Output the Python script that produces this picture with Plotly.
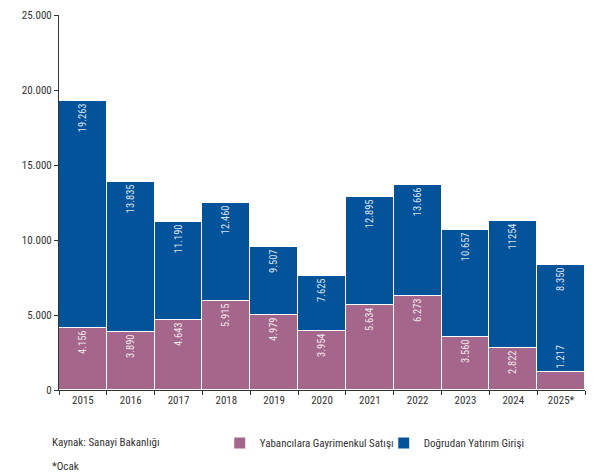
import plotly.graph_objects as go

years = ["2015", "2016", "2017", "2018", "2019", "2020", "2021", "2022", "2023", "2024", "2025*"]
direct_investment = [19263, 13835, 11190, 12460, 9507, 7625, 12895, 13666, 10657, 11254, 8350]
direct_labels = ["19.263", "13.835", "11.190", "12.460", "9.507", "7.625", "12.895", "13.666", "10.657", "11254", "8.350"]
real_estate = [4156, 3890, 4643, 5915, 4979, 3954, 5634, 6273, 3560, 2822, 1217]
real_estate_labels = ["4.156", "3.890", "4.643", "5.915", "4.979", "3.954", "5.634", "6.273", "3.560", "2.822", "1.217"]
y_ticks = [0, 5000, 10000, 15000, 20000, 25000]

BLUE = "#03539B"
PINK = "#A5668B"
FONT = "Liberation Sans Narrow, Roboto Condensed, Arial Narrow, Liberation Sans, sans-serif"
TXT = "#333333"

re_pos = ["inside" if v > 2000 else "outside" for v in real_estate]

fig = go.Figure()
fig.add_trace(go.Bar(
    x=years, y=direct_investment, name="Doğrudan Yatırım Girişi",
    marker=dict(color=BLUE, line=dict(color="white", width=1)),
    text=direct_labels, textposition="inside", insidetextanchor="end",
    textangle=-90, textfont=dict(color="rgba(255,255,255,0.85)", size=10.5, family=FONT),
    legendrank=2, cliponaxis=False,
))
fig.add_trace(go.Bar(
    x=years, y=real_estate, name="Yabancılara Gayrimenkul Satışı",
    marker=dict(color=PINK, line=dict(color="white", width=1)),
    text=real_estate_labels, textposition=re_pos, insidetextanchor="end",
    textangle=-90, textfont=dict(color="rgba(255,255,255,0.85)", size=10.5, family=FONT),
    legendrank=1, cliponaxis=False,
))

fig.update_layout(
    width=586, height=466,
    margin=dict(l=51, r=9, t=7, b=84, autoexpand=False),
    barmode="overlay", bargap=0.0,
    paper_bgcolor="white", plot_bgcolor="white",
    separators=",.",
    font=dict(family=FONT, size=11, color=TXT),
    legend=dict(x=0.3614, y=0.0665, xref="container", yref="container",
                xanchor="left", yanchor="middle",
                orientation="h", entrywidth=119, entrywidthmode="pixels",
                font=dict(size=11, family=FONT, color=TXT),
                bgcolor="rgba(0,0,0,0)"),
    annotations=[
        dict(text="Kaynak: Sanayi Bakanlığı", x=-0.017, y=-0.1413, xref="paper", yref="paper",
             xanchor="left", yanchor="middle", showarrow=False, font=dict(size=11, color=TXT)),
        dict(text="*Ocak", x=-0.017, y=-0.2027, xref="paper", yref="paper",
             xanchor="left", yanchor="middle", showarrow=False, font=dict(size=11, color=TXT)),
    ],
)
fig.update_yaxes(range=[0, 25000], tickvals=y_ticks, tickformat=",d", automargin=False,
                 showline=True, linecolor="#333333", linewidth=1,
                 ticks="outside", ticklen=4, tickcolor="#333333",
                 showgrid=False, zeroline=False, tickfont=dict(size=11, color=TXT))
fig.update_xaxes(range=[-0.5, 10.5], showline=True, linecolor="#333333", linewidth=1,
                 automargin=False,
                 ticks="outside", ticklen=4, tickcolor="#333333", tickson="boundaries",
                 showgrid=False, tickfont=dict(size=11, color=TXT))

fig.write_html("out.html")
